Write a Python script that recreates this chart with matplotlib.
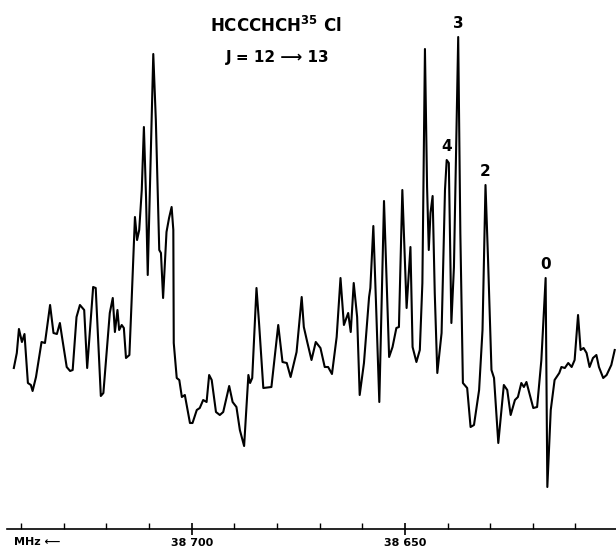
import numpy as np
import matplotlib
matplotlib.use("Agg")
import matplotlib.pyplot as plt

# Frequency (MHz) and relative intensity (arbitrary units)
freq = [38741.7, 38741.0, 38740.5, 38739.8, 38739.2, 38738.4, 38737.7, 38737.3, 38736.5,
        38735.2, 38734.4, 38733.2, 38732.4, 38731.6, 38730.9, 38730.4, 38729.3, 38728.5,
        38727.9, 38727.0, 38726.2, 38725.2, 38724.5, 38723.1, 38722.5, 38721.3, 38720.7,
        38719.2, 38718.5, 38718.0, 38717.4, 38717.0, 38716.4, 38715.9, 38715.4, 38714.6,
        38714.1, 38713.3, 38712.8, 38712.3, 38711.7, 38711.2, 38710.7, 38710.3, 38709.6,
        38709.0, 38708.4, 38707.6, 38707.2, 38706.7, 38705.9, 38705.3, 38704.7, 38704.3,
        38704.2, 38703.5, 38702.9, 38702.3, 38701.6, 38700.4, 38699.8, 38698.8, 38698.1,
        38697.3, 38696.5, 38695.9, 38695.3, 38694.3, 38693.4, 38692.6, 38691.2, 38690.4,
        38689.5, 38688.7, 38687.7, 38686.7, 38686.3, 38685.8, 38684.8, 38684.2, 38683.2,
        38681.3, 38679.7, 38678.7, 38677.7, 38676.8, 38675.4, 38674.2, 38673.7, 38672.9,
        38671.9, 38670.9, 38669.8, 38668.8, 38668.0, 38667.1, 38666.0, 38665.1, 38664.3,
        38663.3, 38662.7, 38662.0, 38661.2, 38660.6, 38659.6, 38658.4, 38658.1, 38657.4,
        38656.8, 38656.0, 38654.9, 38653.7, 38652.9, 38652.0, 38651.4, 38650.6, 38649.6,
        38648.7, 38648.2, 38647.3, 38646.5, 38645.9, 38645.3, 38644.8, 38644.4, 38644.0,
        38643.5, 38643.0, 38642.4, 38641.4, 38640.6, 38640.2, 38639.7, 38639.1, 38638.5,
        38637.5, 38637.0, 38636.4, 38635.4, 38634.6, 38633.8, 38632.6, 38631.8, 38631.1,
        38630.5, 38629.7, 38629.1, 38628.1, 38626.8, 38626.0, 38625.2, 38624.2, 38623.5,
        38622.7, 38622.1, 38621.5, 38620.7, 38619.9, 38619.0, 38618.0, 38617.0, 38616.6,
        38615.8, 38614.9, 38613.8, 38613.3, 38612.5, 38611.7, 38610.9, 38610.2, 38609.4,
        38608.8, 38608.1, 38607.4, 38606.7, 38605.9, 38605.1, 38604.5, 38603.5, 38602.7,
        38601.6, 38600.8]
intensity = [161, 176, 200, 187, 195, 146, 144, 138, 152,
             187, 186, 224, 196, 195, 206, 192, 162, 158,
             159, 212, 224, 219, 161, 242, 241, 133, 136,
             216, 231, 197, 219, 199, 204, 201, 171, 174,
             226, 312, 289, 299, 339, 402, 332, 254, 372,
             475, 409, 279, 276, 231, 297, 311, 322, 299,
             186, 151, 149, 132, 134, 106, 106, 119, 121,
             129, 127, 154, 149, 117, 114, 117, 143, 127,
             122, 99, 83, 154, 146, 151, 241, 206, 141,
             142, 204, 167, 166, 152, 177, 232, 202, 187,
             169, 187, 181, 162, 162, 155, 192, 251, 204,
             216, 197, 246, 212, 134, 166, 232, 241, 303,
             229, 127, 328, 172, 182, 201, 202, 339, 221,
             282, 182, 167, 179, 246, 480, 342, 279, 316,
             333, 236, 156, 196, 339, 369, 366, 206, 262,
             492, 296, 146, 141, 102, 104, 139, 199, 344,
             269, 159, 151, 86, 144, 139, 114, 129, 132,
             146, 142, 147, 134, 121, 122, 169, 251, 42,
             119, 149, 156, 162, 161, 166, 162, 169, 214,
             179, 181, 176, 162, 171, 174, 162, 151, 154,
             164, 179]

peak_labels = ["3", "4", "2", "0"]
peak_freqs = [38637.5, 38640.2, 38631.1, 38617.0]

major_ticks = [38700, 38650]
major_labels = ["38 700", "38 650"]
minor_ticks = [38740, 38730, 38720, 38710, 38690, 38680, 38670, 38660,
               38640, 38630, 38620, 38610]

W, H = 616, 555
fig = plt.figure(figsize=(W / 100, H / 100), dpi=100)
ax = fig.add_axes([7 / W, 26 / H, 609 / W, 529 / H])

f = np.array(freq)
I = np.array(intensity)
ax.plot(f, I, color="black", lw=1.5, solid_joinstyle="round")

ax.set_xlim(38743.3, 38600.5)
ax.set_ylim(0, 529)
for s in ["top", "left", "right"]:
    ax.spines[s].set_visible(False)
ax.spines["bottom"].set_linewidth(1.2)
ax.set_yticks([])
ax.set_xticks(major_ticks, labels=major_labels)
ax.set_xticks(minor_ticks, minor=True)
ax.tick_params(axis="x", which="major", direction="inout", length=8, width=1.2,
               pad=2.5, labelsize=8)
ax.tick_params(axis="x", which="minor", direction="in", length=4, width=1.0)
for lab in ax.get_xticklabels():
    lab.set_fontweight("bold")

# Peak labels placed above the local maximum near each given frequency
for lab, pf in zip(peak_labels, peak_freqs):
    mask = np.abs(f - pf) < 0.8
    idx = np.argmax(np.where(mask, I, -1))
    ax.annotate(lab, xy=(f[idx], I[idx]), xytext=(0, 9.5), textcoords="offset points",
                ha="center", va="center", fontsize=11, fontweight="bold")

fig.text(276 / W, 1 - 26 / H, r"HCCCHCH$^{\mathbf{35}}$ Cl", ha="center", va="center",
         fontsize=12, fontweight="bold")
fig.text(278 / W, 1 - 57 / H, "J = 12 \u27f6 13", ha="center", va="center",
         fontsize=11, fontweight="bold")
fig.text(14 / W, 1 - 542 / H, "MHz \u27f5", ha="left", va="center",
         fontsize=8, fontweight="bold")

fig.savefig("out.png", dpi=100)
